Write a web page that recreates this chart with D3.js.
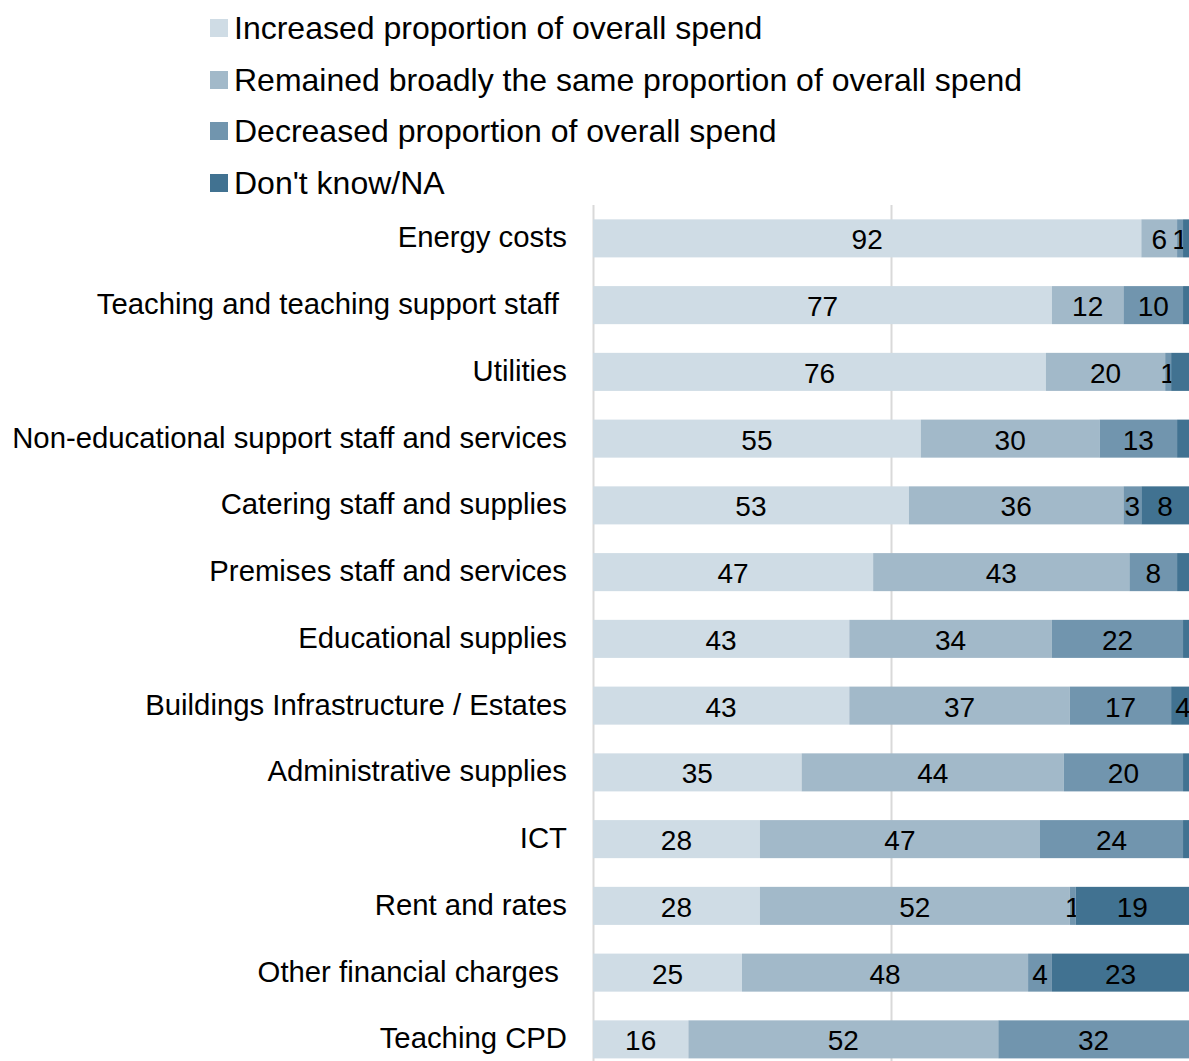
<!DOCTYPE html>
<html>
<head>
<meta charset="utf-8">
<script src="https://cdn.jsdelivr.net/npm/d3@7"></script>
<style>
  html, body { margin: 0; padding: 0; background: #fff; }
  svg { display: block; font-family: "Liberation Sans", Arial, sans-serif; }
  text { white-space: pre; }
</style>
</head>
<body>
<svg id="chart" width="1189" height="1061"></svg>
<script>
// Spending categories, top to bottom
const categories = [
  "Energy costs",
  "Teaching and teaching support staff ",
  "Utilities",
  "Non-educational support staff and services",
  "Catering staff and supplies",
  "Premises staff and services",
  "Educational supplies",
  "Buildings Infrastructure / Estates",
  "Administrative supplies",
  "ICT",
  "Rent and rates",
  "Other financial charges ",
  "Teaching CPD"
];

const seriesNames = [
  "Increased proportion of overall spend",
  "Remained broadly the same proportion of overall spend",
  "Decreased proportion of overall spend",
  "Don't know/NA"
];

// Percentages for each series, in category order
const increased = [92, 77, 76, 55, 53, 47, 43, 43, 35, 28, 28, 25, 16];
const remained  = [ 6, 12, 20, 30, 36, 43, 34, 37, 44, 47, 52, 48, 52];
const decreased = [ 1, 10,  1, 13,  3,  8, 22, 17, 20, 24,  1,  4, 32];
const dontKnow  = [ 1,  1,  3,  2,  8,  2,  1,  4,  1,  1, 19, 23,  0];

const colors = ["#cfdce5", "#a2b9c9", "#7195ae", "#417291"];

// Smallest "Don't know/NA" share that gets a value label
const dkLabelMin = 4;

const svg = d3.select("#chart");
const W = 1189, H = 1061;

const x = d3.scaleLinear().domain([0, 100]).range([593, 1189]);
const y = d3.scaleBand()
  .domain(categories)
  .range([205, 205 + 13 * 66.75])
  .paddingInner(0.43)
  .paddingOuter(0.215);

// Build rows and stack
const rows = categories.map((c, i) => ({
  cat: c,
  s0: increased[i], s1: remained[i], s2: decreased[i], s3: dontKnow[i]
}));
const stack = d3.stack().keys(["s0", "s1", "s2", "s3"]);
const layers = stack(rows);

// Clip plot to the visible area
svg.append("defs").append("clipPath").attr("id", "plotClip")
  .append("rect").attr("x", 0).attr("y", 0).attr("width", W).attr("height", H);

// Gridlines at 0 and 50
const grid = svg.append("g");
grid.selectAll("line").data([0, 50]).join("line")
  .attr("x1", d => x(d) + 0.5).attr("x2", d => x(d) + 0.5)
  .attr("y1", 205).attr("y2", H)
  .attr("stroke", "#d9d9d9").attr("stroke-width", 2);

const plot = svg.append("g").attr("clip-path", "url(#plotClip)");

layers.forEach((layer, li) => {
  const g = plot.append("g").attr("fill", colors[li]);
  g.selectAll("rect").data(layer).join("rect")
    .attr("x", d => x(d[0]))
    .attr("width", d => x(d[1]) - x(d[0]))
    .attr("y", d => y(d.data.cat))
    .attr("height", y.bandwidth());

  const labelData = layer.filter(d => {
    const v = d[1] - d[0];
    if (v <= 0) return false;
    if (li === 3 && v < dkLabelMin) return false;
    return true;
  });
  plot.append("g").selectAll("text").data(labelData).join("text")
    .attr("x", d => (x(d[0]) + x(d[1])) / 2)
    .attr("y", d => y(d.data.cat) + y.bandwidth() / 2)
    .attr("dy", "0.39em")
    .attr("text-anchor", "middle")
    .attr("font-size", 28)
    .attr("fill", "#000")
    .text(d => d[1] - d[0]);
});

// Category labels
const yAxis = d3.axisLeft(y).tickSize(0).tickPadding(0);
const axisG = svg.append("g").attr("transform", "translate(567,0)").call(yAxis);
axisG.select(".domain").remove();
axisG.selectAll("text")
  .attr("font-size", 29.3)
  .attr("font-family", "'Liberation Sans', Arial, sans-serif")
  .attr("fill", "#000")
  .attr("dy", "0.31em");

// Legend
const legend = svg.append("g");
const legendY = [27, 79, 130, 182];
seriesNames.forEach((name, i) => {
  legend.append("rect")
    .attr("x", 210).attr("y", legendY[i] - 8)
    .attr("width", 18).attr("height", 18)
    .attr("fill", colors[i]);
  legend.append("text")
    .attr("x", 234).attr("y", legendY[i])
    .attr("dy", "0.36em")
    .attr("font-size", 32)
    .attr("fill", "#000")
    .text(name);
});
</script>
</body>
</html>
